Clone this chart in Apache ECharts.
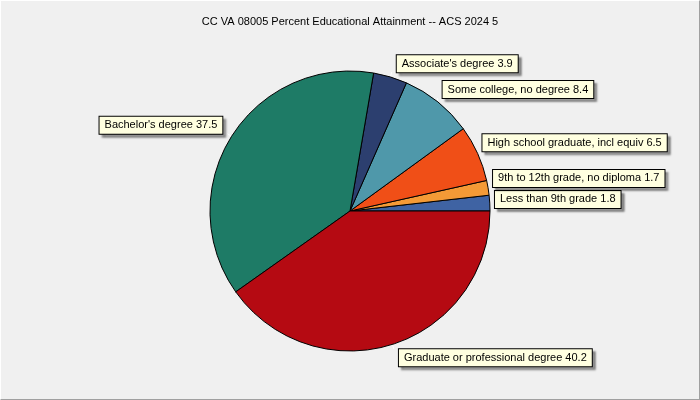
<!DOCTYPE html>
<html>
<head>
<meta charset="utf-8">
<script src="https://cdn.jsdelivr.net/npm/echarts@6/dist/echarts.min.js"></script>
<style>
  html, body { margin: 0; padding: 0; background: #f0f0f0; }
  #main {
    width: 698px; height: 398px;
    border-style: solid; border-width: 1px;
    border-color: #ffffff #a0a0a0 #a0a0a0 #ffffff;
  }
</style>
</head>
<body>
<div id="main"></div>
<script>
// categories, counter-clockwise from 3 o'clock
var categories = [
    "Less than 9th grade",
    "9th to 12th grade, no diploma",
    "High school graduate, incl equiv",
    "Some college, no degree",
    "Associate's degree",
    "Bachelor's degree",
    "Graduate or professional degree"
];
var percents = [1.8, 1.7, 6.5, 8.4, 3.9, 37.5, 40.2];
var sliceColors = ["#3f63a3", "#f49a36", "#f04f17", "#4f98aa", "#2c3f6f", "#1e7b66", "#b50a12"];

var cx = 349, cy = 210;

var chart = echarts.init(document.getElementById("main"));
chart.setOption({
    backgroundColor: "#f0f0f0",
    animation: false,
    title: {
        text: "CC VA 08005 Percent Educational Attainment -- ACS 2024 5",
        left: "center",
        top: 10,
        textStyle: {
            fontFamily: "Liberation Sans",
            fontSize: 11,
            fontWeight: "normal",
            color: "#000"
        }
    },
    series: [
        {
            type: "pie",
            center: [cx, cy],
            radius: [0, 140],
            startAngle: 0,
            clockwise: false,
            avoidLabelOverlap: true,
            itemStyle: {
                borderColor: "#000",
                borderWidth: 1
            },
            label: {
                show: true,
                position: "outside",
                formatter: "{b} {c}",
                fontFamily: "Liberation Sans",
                fontSize: 11,
                color: "#000",
                backgroundColor: "#ffffe0",
                borderColor: "#000",
                borderWidth: 1,
                padding: [3, 5, 3, 5],
                shadowColor: "rgba(0,0,0,0.35)",
                shadowOffsetX: 3,
                shadowOffsetY: 3,
                shadowBlur: 2
            },
            labelLine: {
                show: true,
                length: 5,
                length2: 0,
                lineStyle: { color: "#fff", width: 1 }
            },
            // upper half labels sit above the line end, lower half below it
            labelLayout: function (params) {
                var r = params.labelRect;
                var mid = r.y + r.height / 2;
                return { dy: mid < cy ? -r.height / 2 + 1 : r.height / 2 - 1 };
            },
            emphasis: { disabled: true },
            data: categories.map(function (name, i) {
                return { name: name, value: percents[i], itemStyle: { color: sliceColors[i] } };
            })
        }
    ]
});
</script>
</body>
</html>
